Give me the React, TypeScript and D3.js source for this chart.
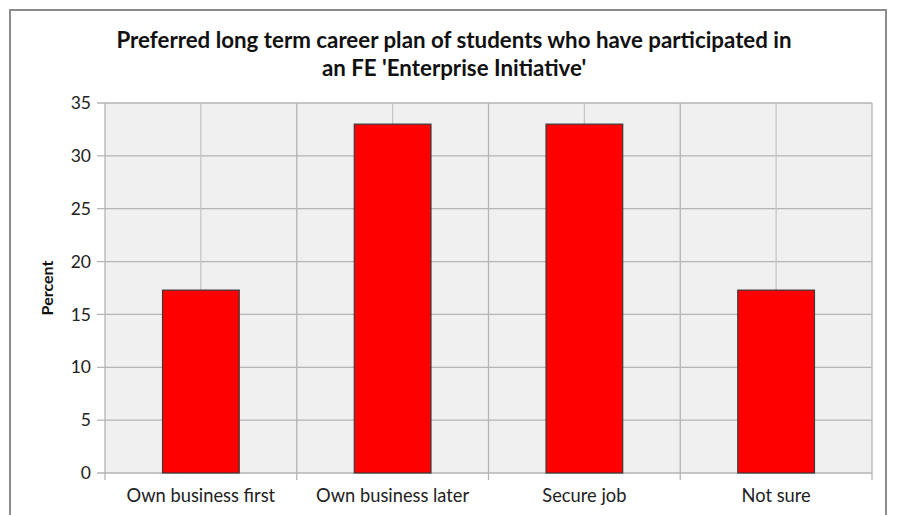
import * as d3 from "d3";

const categories = ["Own business first", "Own business later", "Secure job", "Not sure"];
const percents = [17.3, 33, 33, 17.3];
const yTicks = [0, 5, 10, 15, 20, 25, 30, 35];
const titleLines = [
  "Preferred long term career plan of students who have participated in",
  "an FE 'Enterprise Initiative'",
];

const W = 898;
const H = 515;
const PLOT = { left: 105, right: 872, top: 103, bottom: 473 };
const FONT = "Lato, 'Open Sans', sans-serif";

export default function App() {
  const x = d3.scaleBand().domain(categories).range([PLOT.left, PLOT.right]).paddingInner(0).paddingOuter(0);
  const y = d3.scaleLinear().domain([0, 35]).range([PLOT.bottom, PLOT.top]);
  const bw = x.bandwidth() * 0.4;

  // boundaries between categories and centres both get a vertical gridline
  const boundaries = categories.map((c) => x(c)!).concat([PLOT.right]);
  const centres = categories.map((c) => x(c)! + x.bandwidth() / 2);

  return (
    <svg
      width={W}
      height={H}
      style={{ position: "absolute", left: 0, top: 0, background: "#fff" }}
    >
      <rect x={10} y={10} width={876} height={H} fill="#fff" stroke="#8c8c8c" strokeWidth={2} />
      {titleLines.map((t, i) => (
        <text
          key={i}
          x={454}
          y={48 + i * 28}
          textAnchor="middle"
          fontFamily={FONT}
          fontWeight="bold"
          fontSize={22.3}
          fill="#111"
        >
          {t}
        </text>
      ))}

      <rect
        x={PLOT.left}
        y={PLOT.top}
        width={PLOT.right - PLOT.left}
        height={PLOT.bottom - PLOT.top}
        fill="#f0f0f0"
      />
      {yTicks.map((t) => (
        <g key={t}>
          <line x1={PLOT.left - 8} x2={PLOT.right} y1={y(t)} y2={y(t)} stroke="#b4b4b4" strokeWidth={1.3} />
          <text
            x={PLOT.left - 14}
            y={y(t)}
            dy="0.35em"
            textAnchor="end"
            fontFamily={FONT}
            fontSize={17.5}
            fill="#222"
          >
            {t}
          </text>
        </g>
      ))}
      {boundaries.map((bx, i) => (
        <line key={"b" + i} x1={bx} x2={bx} y1={PLOT.top} y2={PLOT.bottom + 7} stroke="#b4b4b4" strokeWidth={1.3} />
      ))}
      {centres.map((cx, i) => (
        <line key={"c" + i} x1={cx} x2={cx} y1={PLOT.top} y2={PLOT.bottom} stroke="#c4c4c4" strokeWidth={1.2} />
      ))}

      {categories.map((c, i) => (
        <rect
          key={c}
          x={x(c)! + x.bandwidth() / 2 - bw / 2}
          y={y(percents[i])}
          width={bw}
          height={y(0) - y(percents[i])}
          fill="#ff0000"
          stroke="#3a3a3a"
          strokeWidth={1.2}
        />
      ))}

      {categories.map((c) => (
        <text
          key={c}
          x={x(c)! + x.bandwidth() / 2}
          y={502}
          textAnchor="middle"
          fontFamily={FONT}
          fontSize={18.3}
          fill="#222"
        >
          {c}
        </text>
      ))}

      <text
        transform={`translate(53, ${(PLOT.top + PLOT.bottom) / 2}) rotate(-90)`}
        textAnchor="middle"
        fontFamily={FONT}
        fontWeight="bold"
        fontSize={16}
        fill="#111"
      >
        Percent
      </text>
    </svg>
  );
}
